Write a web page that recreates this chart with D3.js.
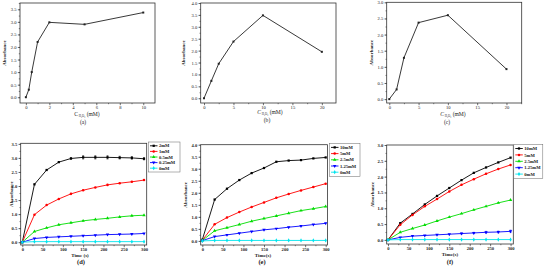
<!DOCTYPE html>
<html>
<head>
<meta charset="utf-8">
<script src="https://cdn.jsdelivr.net/npm/d3@7"></script>
<style>
  body { margin: 0; background: #fff; }
  svg { display: block; font-family: "Liberation Serif", "DejaVu Serif", serif; }
</style>
</head>
<body>
<div id="chart"></div>
<script>
// Top row: absorbance vs concentration
const concA = [0, 0.25, 0.5, 1, 2, 5, 10];
const absA = [0.0, 0.3, 1.0, 2.2, 2.98, 2.9, 3.37];
const concB = [0, 1.25, 2.5, 5, 10, 20];
const absB = [0.0, 0.73, 1.45, 2.38, 3.48, 1.95];
const concC = [0, 1.25, 2.5, 5, 10, 20];
const absC = [0.0, 0.3, 1.28, 2.37, 2.6, 0.93];

// Bottom row: absorbance vs time
const times = [0, 30, 60, 90, 120, 150, 180, 210, 240, 270, 300];

const namesD = ["2mM", "1mM", "0.5mM", "0.25mM", "0mM"];
const valuesD = [
  [0, 2.06, 2.57, 2.85, 2.98, 3.02, 3.02, 3.02, 3.01, 3.0, 2.97],
  [0, 0.98, 1.32, 1.54, 1.72, 1.85, 1.95, 2.04, 2.1, 2.15, 2.21],
  [0, 0.38, 0.51, 0.62, 0.69, 0.76, 0.81, 0.85, 0.9, 0.94, 0.96],
  [0, 0.13, 0.17, 0.19, 0.21, 0.23, 0.25, 0.27, 0.28, 0.29, 0.31],
  [0, 0.02, 0.02, 0.02, 0.02, 0.02, 0.02, 0.02, 0.02, 0.02, 0.02]
];
const errD = [0, 0, 0, 0, 0.03, 0.06, 0.06, 0.06, 0.05, 0.05, 0.04];

const namesE = ["10mM", "5mM", "2.5mM", "1.25mM", "0mM"];
const valuesE = [
  [0.05, 1.72, 2.17, 2.53, 2.82, 3.03, 3.29, 3.34, 3.36, 3.43, 3.47],
  [0.03, 0.69, 0.97, 1.2, 1.41, 1.6, 1.79, 1.95, 2.1, 2.24, 2.38],
  [0.02, 0.42, 0.55, 0.68, 0.82, 0.93, 1.04, 1.15, 1.26, 1.34, 1.43],
  [0.01, 0.18, 0.25, 0.32, 0.39, 0.46, 0.51, 0.57, 0.62, 0.68, 0.73],
  [0, 0.02, 0.02, 0.02, 0.02, 0.02, 0.02, 0.02, 0.02, 0.02, 0.02]
];

const namesF = ["10mM", "5mM", "2.5mM", "1.25mM", "0mM"];
const valuesF = [
  [0, 0.53, 0.82, 1.12, 1.39, 1.64, 1.89, 2.12, 2.29, 2.45, 2.6],
  [0, 0.48, 0.79, 1.06, 1.29, 1.53, 1.74, 1.92, 2.09, 2.24, 2.37],
  [0, 0.24, 0.36, 0.47, 0.6, 0.72, 0.83, 0.95, 1.06, 1.17, 1.26],
  [0, 0.08, 0.12, 0.14, 0.16, 0.18, 0.2, 0.22, 0.24, 0.25, 0.27],
  [0, 0.01, 0.01, 0.01, 0.01, 0.01, 0.01, 0.01, 0.01, 0.01, 0.01]
];
const errF = [0, 0, 0, 0, 0, 0, 0.02, 0.02, 0.03, 0.03, 0.04];

const seriesColors = ["#000000", "#ff0000", "#00dd00", "#0000ff", "#00e5ee"];
const seriesSymbols = [d3.symbolSquare, d3.symbolCircle, d3.symbolTriangle, "down", d3.symbolDiamond];

const width = 550, height = 268;
const svg = d3.select("#chart").append("svg")
  .attr("width", width)
  .attr("height", height);

function symbolPath(sym, size) {
  if (sym === "down") return d3.symbol(d3.symbolTriangle, size)();
  return d3.symbol(sym, size)();
}

function drawPanel(p) {
  const x = d3.scaleLinear().domain(p.xDomain).range([p.left, p.right]);
  const y = d3.scaleLinear().domain(p.yDomain).range([p.bottom, p.top]);
  const g = svg.append("g");

  // frame
  g.append("rect")
    .attr("x", p.left).attr("y", p.top)
    .attr("width", p.right - p.left).attr("height", p.bottom - p.top)
    .attr("fill", "none").attr("stroke", "#333").attr("stroke-width", 0.8);

  // minor ticks
  g.append("g").attr("transform", `translate(0,${p.bottom})`)
    .call(d3.axisBottom(x).tickValues(p.xMinor).tickSize(1.2).tickFormat(""))
    .call(a => a.select(".domain").remove())
    .call(a => a.selectAll("line").attr("stroke", "#333").attr("stroke-width", 0.6));
  g.append("g").attr("transform", `translate(${p.left},0)`)
    .call(d3.axisLeft(y).tickValues(p.yMinor).tickSize(1.2).tickFormat(""))
    .call(a => a.select(".domain").remove())
    .call(a => a.selectAll("line").attr("stroke", "#333").attr("stroke-width", 0.6));

  // major ticks
  const fw = p.bold ? "bold" : "normal";
  g.append("g").attr("transform", `translate(0,${p.bottom})`)
    .call(d3.axisBottom(x).tickValues(p.xTicks).tickSize(2.2).tickPadding(0.8).tickFormat(d3.format("d")))
    .call(a => a.select(".domain").remove())
    .call(a => a.selectAll("line").attr("stroke", "#333").attr("stroke-width", 0.7))
    .call(a => a.selectAll("text").attr("font-size", 4.6).attr("font-family", "Liberation Serif")
      .attr("font-weight", fw).attr("fill", "#222"));
  g.append("g").attr("transform", `translate(${p.left},0)`)
    .call(d3.axisLeft(y).tickValues(p.yTicks).tickSize(2.2).tickPadding(1.2).tickFormat(d3.format(".1f")))
    .call(a => a.select(".domain").remove())
    .call(a => a.selectAll("line").attr("stroke", "#333").attr("stroke-width", 0.7))
    .call(a => a.selectAll("text").attr("font-size", 4.6).attr("font-family", "Liberation Serif")
      .attr("font-weight", fw).attr("fill", "#222"));

  // y label
  g.append("text")
    .attr("transform", `translate(${p.yLabelX},${(p.top + p.bottom) / 2}) rotate(-90)`)
    .attr("text-anchor", "middle")
    .attr("font-size", 5)
    .attr("font-weight", "bold")
    .attr("fill", "#222")
    .text("Absorbance");

  // x label
  if (p.xLabel === "conc") {
    const t = g.append("text")
      .attr("x", p.xLabelX).attr("y", p.xLabelY)
      .attr("text-anchor", "middle")
      .attr("font-size", 5.6)
      .attr("fill", "#222");
    t.append("tspan").attr("font-style", p.italicC ? "italic" : "normal").text("C");
    t.append("tspan").attr("font-size", 3).attr("dy", 1.4).text(" H\u2082O\u2082");
    t.append("tspan").attr("dy", -1.4).text(" (mM)");
  } else {
    g.append("text")
      .attr("x", p.xLabelX).attr("y", p.xLabelY)
      .attr("text-anchor", "middle")
      .attr("font-size", 5)
      .attr("font-weight", "bold")
      .attr("fill", "#222")
      .text(p.xLabel);
  }

  // caption
  g.append("text")
    .attr("x", p.capX).attr("y", p.capY)
    .attr("text-anchor", "middle")
    .attr("font-size", p.bold ? 6.5 : 5.6)
    .attr("font-weight", p.bold ? "bold" : "normal")
    .attr("fill", "#222")
    .text(p.caption);

  const line = d3.line().x(d => x(d[0])).y(d => y(d[1]));

  p.series.forEach((s, i) => {
    const pts = s.xs.map((v, j) => [v, s.ys[j]]);
    g.append("path")
      .datum(pts)
      .attr("d", line)
      .attr("fill", "none")
      .attr("stroke", s.color)
      .attr("stroke-width", 0.9);

    if (s.err) {
      pts.forEach((d, j) => {
        if (!s.err[j]) return;
        const cx = x(d[0]);
        g.append("path")
          .attr("d", `M${cx},${y(d[1] - s.err[j])}V${y(d[1] + s.err[j])}` +
            `M${cx - 1},${y(d[1] - s.err[j])}H${cx + 1}M${cx - 1},${y(d[1] + s.err[j])}H${cx + 1}`)
          .attr("stroke", s.color)
          .attr("stroke-width", 0.5)
          .attr("fill", "none");
      });
    }

    g.selectAll(null)
      .data(pts)
      .join("path")
      .attr("transform", d => `translate(${x(d[0])},${y(d[1])})` + (s.symbol === "down" ? " rotate(180)" : ""))
      .attr("d", symbolPath(s.symbol, s.size || 5))
      .attr("fill", s.color);
  });

  // legend
  if (p.legend) {
    const L = p.legend;
    const lg = g.append("g");
    lg.append("rect")
      .attr("x", L.x).attr("y", L.y)
      .attr("width", L.w).attr("height", L.h)
      .attr("fill", "#fff").attr("stroke", "#666").attr("stroke-width", 0.5);
    const step = (L.h - 2) / p.series.length;
    p.series.forEach((s, i) => {
      const cy = L.y + 1 + step * (i + 0.5);
      lg.append("line")
        .attr("x1", L.x + 1.5).attr("x2", L.x + 9)
        .attr("y1", cy).attr("y2", cy)
        .attr("stroke", s.color).attr("stroke-width", 0.9);
      lg.append("path")
        .attr("transform", `translate(${L.x + 5.2},${cy})` + (s.symbol === "down" ? " rotate(180)" : ""))
        .attr("d", symbolPath(s.symbol, 5))
        .attr("fill", s.color);
      lg.append("text")
        .attr("x", L.x + 10.5).attr("y", cy + 1.6)
        .attr("font-size", 4.6)
        .attr("font-weight", "bold")
        .attr("fill", "#222")
        .text(s.name);
    });
  }
}

function singleSeries(xs, ys) {
  return [{ xs, ys, color: "#222", symbol: d3.symbolSquare, size: 4 }];
}

function timeSeries(names, values, errs, errIndex) {
  return names.map((n, i) => ({
    name: n,
    xs: times,
    ys: values[i],
    color: seriesColors[i],
    symbol: seriesSymbols[i],
    err: i === errIndex ? errs : null
  }));
}

const halfTicks = [0, 0.5, 1, 1.5, 2, 2.5, 3, 3.5, 4];
const quarterTicks = d3.range(0, 4.01, 0.25);

drawPanel({
  left: 20, right: 155, top: 3, bottom: 103,
  xDomain: [-0.5, 11], yDomain: [-0.23, 3.75],
  xTicks: [0, 2, 4, 6, 8, 10], xMinor: [1, 3, 5, 7, 9],
  yTicks: halfTicks.slice(0, 8), yMinor: quarterTicks.filter(v => v <= 3.75),
  series: singleSeries(concA, absA),
  yLabelX: 6, xLabel: "conc", xLabelX: 87, xLabelY: 116, italicC: false,
  caption: "(a)", capX: 83, capY: 123.5
});

drawPanel({
  left: 200.7, right: 336, top: 3, bottom: 103,
  xDomain: [-0.56, 22.4], yDomain: [-0.2, 4.0],
  xTicks: [0, 5, 10, 15, 20], xMinor: [2.5, 7.5, 12.5, 17.5, 22.5].filter(v => v <= 22.4),
  yTicks: halfTicks, yMinor: quarterTicks,
  series: singleSeries(concB, absB),
  yLabelX: 185, xLabel: "conc", xLabelX: 270, xLabelY: 114, italicC: true,
  caption: "(b)", capX: 267, capY: 121.5
});

drawPanel({
  left: 386.7, right: 521.7, top: 2.3, bottom: 103,
  xDomain: [-0.44, 22.6], yDomain: [-0.12, 3.0],
  xTicks: [0, 5, 10, 15, 20], xMinor: [2.5, 7.5, 12.5, 17.5, 22.5].filter(v => v <= 22.6),
  yTicks: halfTicks.slice(0, 7), yMinor: quarterTicks.filter(v => v <= 3),
  series: singleSeries(concC, absC),
  yLabelX: 373, xLabel: "conc", xLabelX: 453, xLabelY: 116, italicC: true,
  caption: "(c)", capX: 447, capY: 123.5
});

const timeTicks = [0, 50, 100, 150, 200, 250, 300];
const timeMinor = [25, 75, 125, 175, 225, 275];

drawPanel({
  left: 20.7, right: 146.7, top: 143.3, bottom: 245,
  xDomain: [-3.9, 306.6], yDomain: [-0.1, 3.52],
  xTicks: timeTicks, xMinor: timeMinor,
  yTicks: halfTicks.slice(0, 8), yMinor: quarterTicks.filter(v => v <= 3.5),
  series: timeSeries(namesD, valuesD, errD, 0),
  legend: { x: 148.5, y: 142, w: 31.5, h: 30 },
  yLabelX: 13, xLabel: "Time (s)", xLabelX: 80, xLabelY: 256.5,
  caption: "(d)", capX: 81, capY: 264, bold: true
});

drawPanel({
  left: 200.7, right: 327.5, top: 144.7, bottom: 245,
  xDomain: [-3.9, 304.4], yDomain: [-0.17, 4.0],
  xTicks: timeTicks, xMinor: timeMinor,
  yTicks: halfTicks, yMinor: quarterTicks,
  series: timeSeries(namesE, valuesE, null, -1),
  legend: { x: 329.5, y: 143.3, w: 30.5, h: 33 },
  yLabelX: 187, xLabel: "Time(s)", xLabelX: 263, xLabelY: 256.5,
  caption: "(e)", capX: 262, capY: 264, bold: true
});

drawPanel({
  left: 386.7, right: 513.3, top: 145, bottom: 244,
  xDomain: [-3.2, 306.7], yDomain: [-0.13, 3.0],
  xTicks: timeTicks, xMinor: timeMinor,
  yTicks: halfTicks.slice(0, 7), yMinor: quarterTicks.filter(v => v <= 3),
  series: timeSeries(namesF, valuesF, errF, 3),
  legend: { x: 513.8, y: 144.3, w: 29, h: 34 },
  yLabelX: 373.5, xLabel: "Time(s)", xLabelX: 450, xLabelY: 256,
  caption: "(f)", capX: 450, capY: 263.5, bold: true
});
</script>
</body>
</html>
